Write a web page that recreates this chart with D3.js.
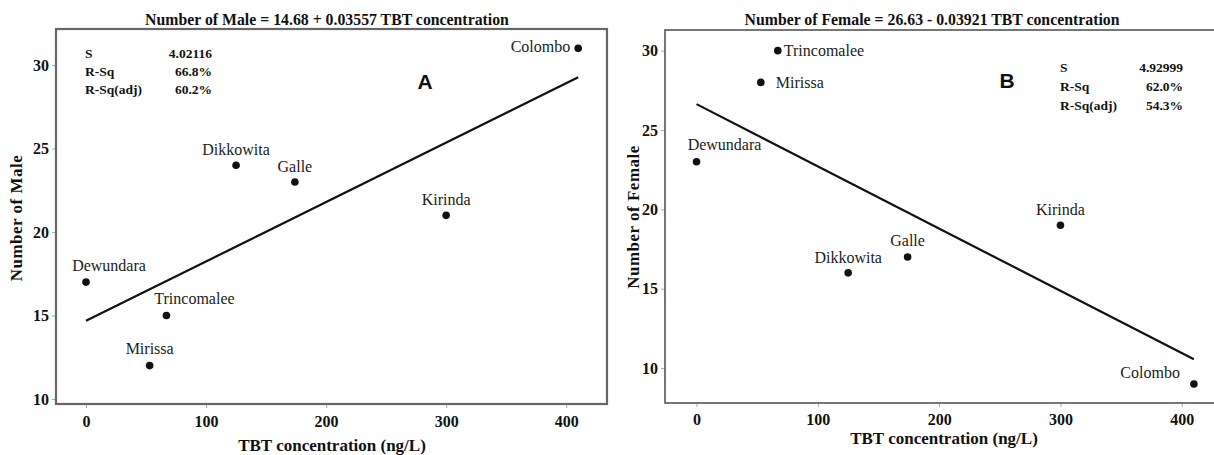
<!DOCTYPE html>
<html><head><meta charset="utf-8">
<script src="https://cdn.jsdelivr.net/npm/d3@7"></script>
<style>
html,body{margin:0;padding:0;background:#fff;overflow:hidden;}
svg{display:block;}
</style></head>
<body>
<svg id="chart" width="1214" height="455"></svg>
<script>
// ---- data ----
const sites = ["Dewundara","Mirissa","Trincomalee","Dikkowita","Galle","Kirinda","Colombo"];
const tbt = [0, 53, 67, 125, 174, 300, 410];
const males = [17, 12, 15, 24, 23, 21, 31];
const females = [23, 28, 30, 16, 17, 19, 9];
const xTicks = [0, 100, 200, 300, 400];
const yTicks = [10, 15, 20, 25, 30];
const maleFit = {intercept: 14.68, slope: 0.03557};
const femaleFit = {intercept: 26.63, slope: -0.03921};
const maleStats = [["S","4.02116"],["R-Sq","66.8%"],["R-Sq(adj)","60.2%"]];
const femaleStats = [["S","4.92999"],["R-Sq","62.0%"],["R-Sq(adj)","54.3%"]];
const maleTitle = "Number of Male = 14.68 + 0.03557 TBT concentration";
const femaleTitle = "Number of Female = 26.63 - 0.03921 TBT concentration";
const xLabel = "TBT concentration (ng/L)";

// ---- layout ----
const svg = d3.select("#chart");
const serif = "'Liberation Serif','Times New Roman',serif";
const sans = "'Liberation Sans',Arial,sans-serif";

const panels = [
  {
    values: males, fit: maleFit, stats: maleStats, title: maleTitle, ylab: "Number of Male", letter: "A",
    frame: {x0: 56, x1: 607, y0: 29, y1: 404}, xDom: [-25, 434], yDom: [9.7, 32.16],
    frameStroke: "#666", frameWidth: 2.2,
    titlePos: [327, 25], titleSize: 15.8, xLabPos: [332, 450.5], yLabPos: [16, 218], xPad: 8,
    letterPos: [425, 81], statsPos: {lx: 85, vx: 212, y: [53, 71, 89]},
    labels: {
      Dewundara: {dx: 23, dy: -16.5, a: "middle"},
      Trincomalee: {dx: 28, dy: -17, a: "middle"},
      Mirissa: {dx: 0, dy: -17, a: "middle"},
      Dikkowita: {dx: 0, dy: -16, a: "middle"},
      Galle: {dx: 0, dy: -16, a: "middle"},
      Kirinda: {dx: 0, dy: -16, a: "middle"},
      Colombo: {dx: -8, dy: -1.5, a: "end"}
    }
  },
  {
    values: females, fit: femaleFit, stats: femaleStats, title: femaleTitle, ylab: "Number of Female", letter: "B",
    frame: {x0: 665, x1: 1223, y0: 30, y1: 403}, xDom: [-26, 434], yDom: [7.8, 31.3],
    frameStroke: "#555", frameWidth: 1.6,
    titlePos: [932, 25], titleSize: 15.8, xLabPos: [944, 443.5], yLabPos: [633, 217], xPad: 7,
    letterPos: [1007, 80], statsPos: {lx: 1060, vx: 1183, y: [67, 86, 105]},
    labels: {
      Dewundara: {dx: 28, dy: -17.5, a: "middle"},
      Trincomalee: {dx: 6, dy: 0, a: "start"},
      Mirissa: {dx: 15, dy: 0, a: "start"},
      Dikkowita: {dx: 0, dy: -15, a: "middle"},
      Galle: {dx: 0, dy: -16.7, a: "middle"},
      Kirinda: {dx: 0, dy: -16, a: "middle"},
      Colombo: {dx: -14, dy: -12, a: "end"}
    }
  }
];

panels.forEach(p => {
  const f = p.frame;
  const x = d3.scaleLinear().domain(p.xDom).range([f.x0, f.x1]);
  const y = d3.scaleLinear().domain(p.yDom).range([f.y1, f.y0]);
  const g = svg.append("g");

  // axes
  const xa = g.append("g").attr("transform", `translate(0,${f.y1})`)
    .call(d3.axisBottom(x).tickValues(xTicks).tickSize(4).tickPadding(p.xPad));
  const ya = g.append("g").attr("transform", `translate(${f.x0},0)`)
    .call(d3.axisLeft(y).tickValues(yTicks).tickSize(4).tickPadding(3));
  [xa, ya].forEach(a => {
    a.select(".domain").remove();
    a.selectAll(".tick line").attr("stroke", "#aaa").attr("stroke-width", 1);
    a.selectAll(".tick text").attr("fill", "#111")
      .style("font-family", serif).style("font-size", "16px").style("font-weight", "bold");
  });

  // frame
  g.append("rect").attr("x", f.x0).attr("y", f.y0)
    .attr("width", f.x1 - f.x0).attr("height", f.y1 - f.y0)
    .attr("fill", "none").attr("stroke", p.frameStroke).attr("stroke-width", p.frameWidth);

  // regression line
  const xr = d3.extent(tbt);
  g.append("path")
    .datum(xr.map(v => [v, p.fit.intercept + p.fit.slope * v]))
    .attr("d", d3.line().x(d => x(d[0])).y(d => y(d[1])))
    .attr("fill", "none").attr("stroke", "#111").attr("stroke-width", 2.2);

  // points
  const pts = sites.map((s, i) => ({site: s, tbt: tbt[i], v: p.values[i]}));
  g.selectAll("circle.pt").data(pts).join("circle").attr("class", "pt")
    .attr("cx", d => x(d.tbt)).attr("cy", d => y(d.v)).attr("r", 3.8).attr("fill", "#111");
  g.selectAll("text.lab").data(pts).join("text").attr("class", "lab")
    .attr("x", d => x(d.tbt) + p.labels[d.site].dx)
    .attr("y", d => y(d.v) + p.labels[d.site].dy)
    .attr("dy", "0.35em")
    .attr("text-anchor", d => p.labels[d.site].a)
    .style("font-family", serif).style("font-size", "16px").attr("fill", "#222")
    .text(d => d.site);

  // title
  g.append("text").attr("x", p.titlePos[0]).attr("y", p.titlePos[1])
    .attr("text-anchor", "middle").style("font-family", serif).style("font-size", p.titleSize + "px")
    .style("font-weight", "bold").attr("fill", "#111").text(p.title);

  // axis labels
  g.append("text").attr("x", p.xLabPos[0]).attr("y", p.xLabPos[1])
    .attr("text-anchor", "middle").style("font-family", serif).style("font-size", "17px")
    .style("font-weight", "bold").attr("fill", "#111").text(xLabel);
  g.append("text").attr("transform", `translate(${p.yLabPos[0]},${p.yLabPos[1]}) rotate(-90)`)
    .attr("dy", "0.35em").attr("text-anchor", "middle").style("font-family", serif)
    .style("font-size", "17px").style("font-weight", "bold").style("letter-spacing", "0.5px")
    .attr("fill", "#111").text(p.ylab);

  // letter
  g.append("text").attr("x", p.letterPos[0]).attr("y", p.letterPos[1]).attr("dy", "0.36em")
    .attr("text-anchor", "middle").style("font-family", sans).style("font-size", "21px")
    .style("font-weight", "bold").attr("fill", "#111").text(p.letter);

  // stats
  p.stats.forEach((r, i) => {
    g.append("text").attr("x", p.statsPos.lx).attr("y", p.statsPos.y[i]).attr("dy", "0.35em")
      .style("font-family", serif).style("font-size", "13.5px").style("font-weight", "bold")
      .attr("fill", "#111").text(r[0]);
    g.append("text").attr("x", p.statsPos.vx).attr("y", p.statsPos.y[i]).attr("dy", "0.35em")
      .attr("text-anchor", "end")
      .style("font-family", serif).style("font-size", "13.5px").style("font-weight", "bold")
      .attr("fill", "#111").text(r[1]);
  });
});
</script>
</body></html>
